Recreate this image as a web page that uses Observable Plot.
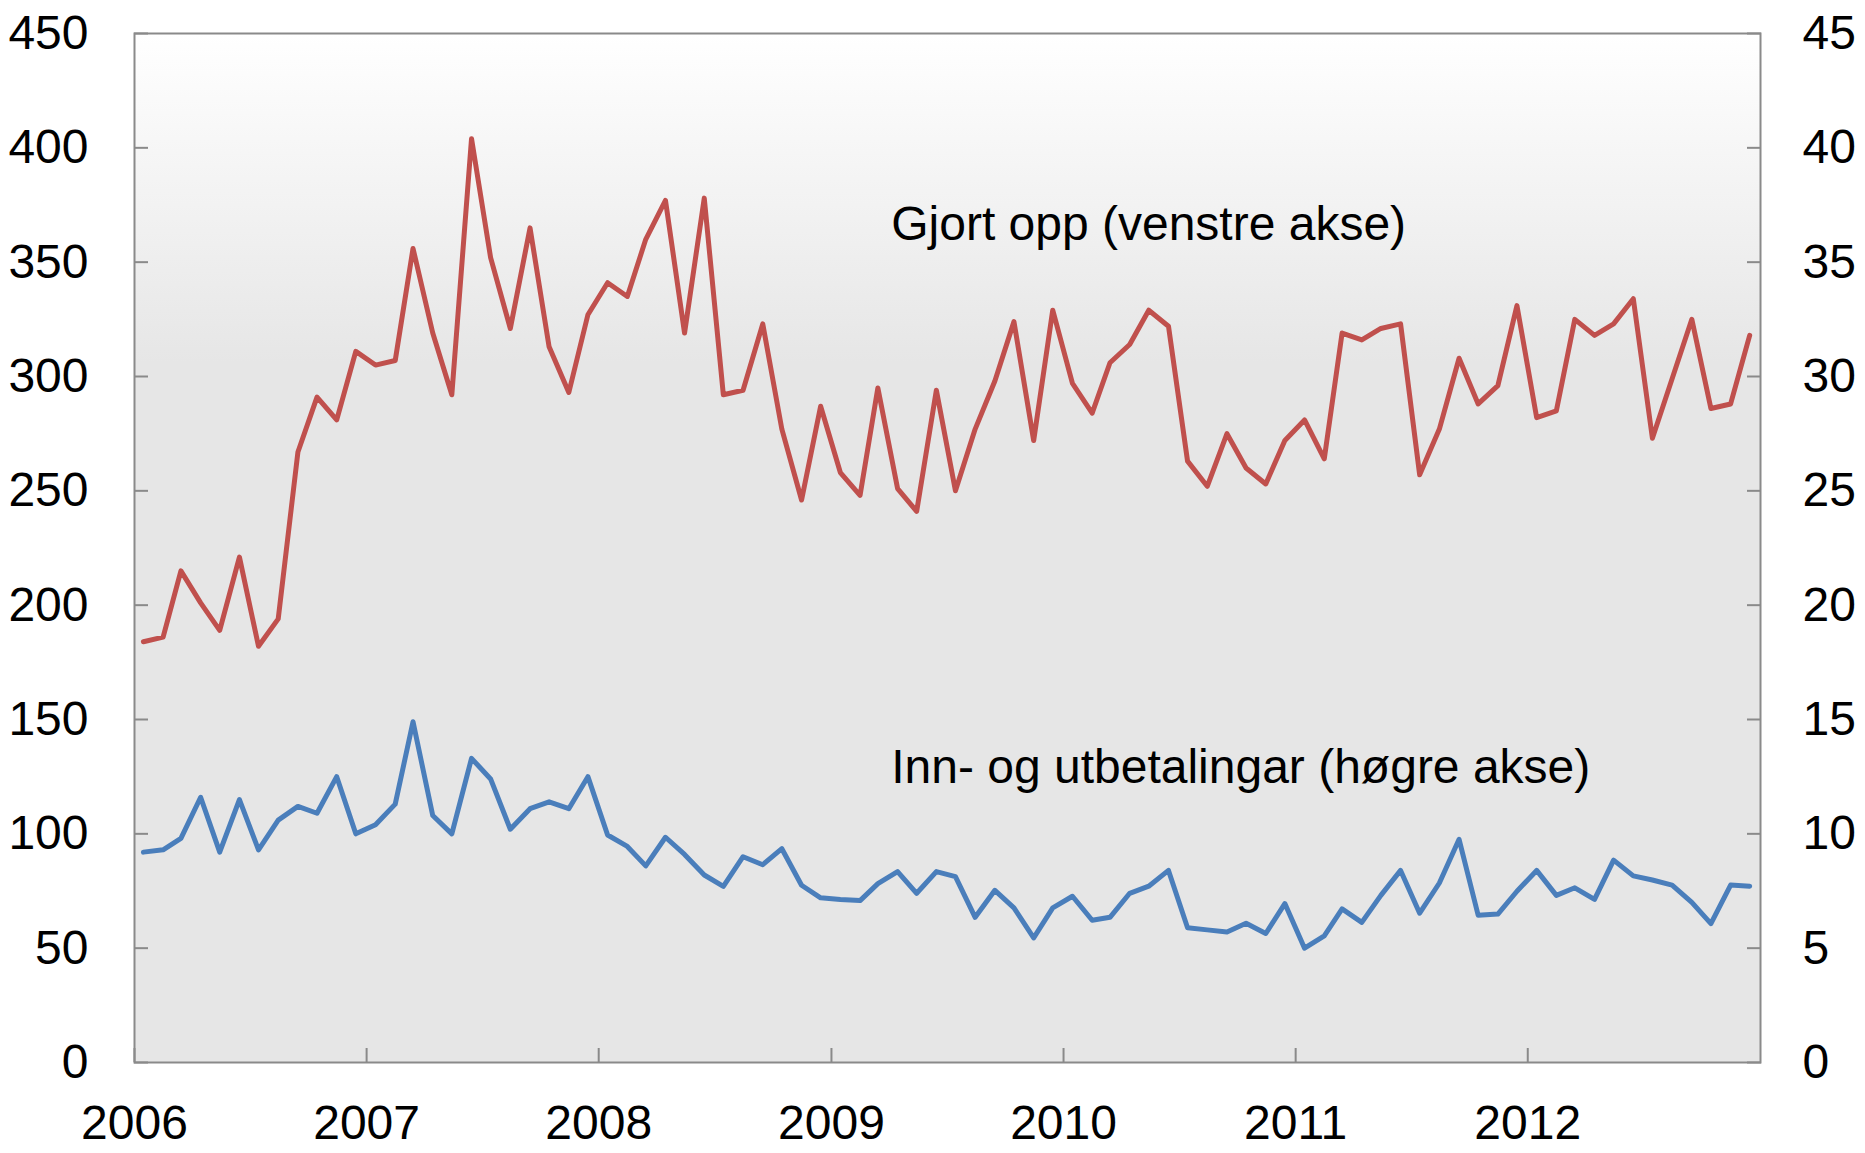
<!DOCTYPE html>
<html>
<head>
<meta charset="utf-8">
<script src="https://cdn.jsdelivr.net/npm/d3@7"></script>
<script src="https://cdn.jsdelivr.net/npm/@observablehq/plot@0.6"></script>
<style>
  html, body { margin: 0; padding: 0; background: #ffffff; }
  #chart svg { display: block; }
</style>
</head>
<body>
<div id="chart"></div>
<script>
// Gjort opp (venstre akse), monthly 2006-01 .. 2012-12
const gjortOpp = [
  184, 186, 215, 201, 189, 221, 182, 194, 267, 291, 281, 311,
  305, 307, 356, 319, 292, 404, 352, 321, 365, 313, 293, 327,
  341, 335, 360, 377, 319, 378, 292, 294, 323, 277, 246, 287,
  258, 248, 295, 251, 241, 294, 250, 277, 298, 324, 272, 329,
  297, 284, 306, 314, 329, 322, 263, 252, 275, 260, 253, 272,
  281, 264, 319, 316, 321, 323, 257, 277, 308, 288, 296, 331,
  282, 285, 325, 318, 323, 334, 273, 299, 325, 286, 288, 318
];
// Inn- og utbetalingar (høgre akse)
const innUt = [
  9.2, 9.3, 9.8, 11.6, 9.2, 11.5, 9.3, 10.6, 11.2, 10.9, 12.5, 10.0,
  10.4, 11.3, 14.9, 10.8, 10.0, 13.3, 12.4, 10.2, 11.1, 11.4, 11.1, 12.5,
  9.95, 9.45, 8.6, 9.85, 9.1, 8.2, 7.7, 9.0, 8.65, 9.35, 7.75, 7.2,
  7.13, 7.08, 7.82, 8.35, 7.4, 8.35, 8.13, 6.35, 7.53, 6.76, 5.45, 6.76,
  7.27, 6.22, 6.35, 7.4, 7.71, 8.4, 5.89, 5.8, 5.71, 6.09, 5.64, 6.95,
  5.0, 5.54, 6.72, 6.13, 7.31, 8.4, 6.53, 7.85, 9.76, 6.44, 6.49, 7.49,
  8.4, 7.31, 7.64, 7.13, 8.85, 8.16, 7.98, 7.76, 7.0, 6.07, 7.76, 7.71
];
const years = [2006, 2007, 2008, 2009, 2010, 2011, 2012];
const leftTicks = [0, 50, 100, 150, 200, 250, 300, 350, 400, 450];
const rightTicks = [0, 5, 10, 15, 20, 25, 30, 35, 40, 45];
const labels = [
  {date: "2009-04-05", value: 366.5, text: "Gjort opp (venstre akse)"},
  {date: "2009-04-05", value: 129, text: "Inn- og utbetalingar (høgre akse)"}
];

const rightFactor = 450 / 45;
const months = d3.utcMonths(new Date(Date.UTC(2006, 0, 1)), new Date(Date.UTC(2013, 0, 1)))
  .map(d => d3.utcDay.offset(d, 14));
const redData = gjortOpp.map((v, i) => ({date: months[i], value: v}));
const blueData = innUt.map((v, i) => ({date: months[i], value: v * rightFactor}));
const yearDates = years.map(y => new Date(Date.UTC(y, 0, 1)));
const labelData = labels.map(d => ({...d, date: new Date(d.date + "T00:00:00Z")}));

const axisColor = "#8a8a8a";
const fs = 48;

function gradientDefs() {
  const g = d3.create("svg:g");
  const grad = g.append("defs").append("linearGradient")
    .attr("id", "bgGrad").attr("x1", 0).attr("y1", 0).attr("x2", 0).attr("y2", 1);
  grad.append("stop").attr("offset", "0%").attr("stop-color", "#ffffff");
  grad.append("stop").attr("offset", "32%").attr("stop-color", "#e6e6e6");
  grad.append("stop").attr("offset", "100%").attr("stop-color", "#e6e6e6");
  return g.node();
}

const chart = Plot.plot({
  width: 1865,
  height: 1153,
  marginLeft: 134,
  marginRight: 105,
  marginTop: 33,
  marginBottom: 91,
  style: {fontFamily: "'Liberation Sans', Arial, sans-serif", fontSize: fs + "px", color: "#000", background: "#ffffff"},
  x: {type: "utc", domain: [new Date(Date.UTC(2006, 0, 1)), new Date(Date.UTC(2013, 0, 1))]},
  y: {domain: [0, 450]},
  marks: [
    gradientDefs,
    Plot.frame({fill: "url(#bgGrad)", stroke: null}),
    Plot.line(redData, {x: "date", y: "value", stroke: "#c0504d", strokeWidth: 5}),
    Plot.line(blueData, {x: "date", y: "value", stroke: "#4a7ebb", strokeWidth: 5}),
    Plot.text(labelData, {x: "date", y: "value", text: "text", textAnchor: "start", lineAnchor: "middle", fontSize: fs, fill: "#000"}),
    Plot.frame({stroke: axisColor, strokeWidth: 2}),
    // inward tick marks
    Plot.axisY({anchor: "left", ticks: leftTicks, tickSize: -14, tickFormat: () => "", stroke: axisColor, strokeWidth: 2, label: null}),
    Plot.axisY({anchor: "right", ticks: leftTicks, tickSize: -14, tickFormat: () => "", stroke: axisColor, strokeWidth: 2, label: null}),
    Plot.axisX({ticks: yearDates, tickSize: -14, tickFormat: () => "", stroke: axisColor, strokeWidth: 2, label: null}),
    // labels
    Plot.axisY({anchor: "left", ticks: leftTicks, tickSize: 0, tickPadding: 46, tickFormat: d => String(d), fontSize: fs, fill: "#000", label: null}),
    Plot.axisY({anchor: "right", ticks: leftTicks, tickSize: 0, tickPadding: 42, tickFormat: d => String(rightTicks[leftTicks.indexOf(d)]), fontSize: fs, fill: "#000", label: null}),
    Plot.axisX({ticks: yearDates, tickSize: 0, tickPadding: 42, tickFormat: d => String(d.getUTCFullYear()), fontSize: fs, fill: "#000", label: null})
  ]
});
document.getElementById("chart").append(chart);
</script>
</body>
</html>
